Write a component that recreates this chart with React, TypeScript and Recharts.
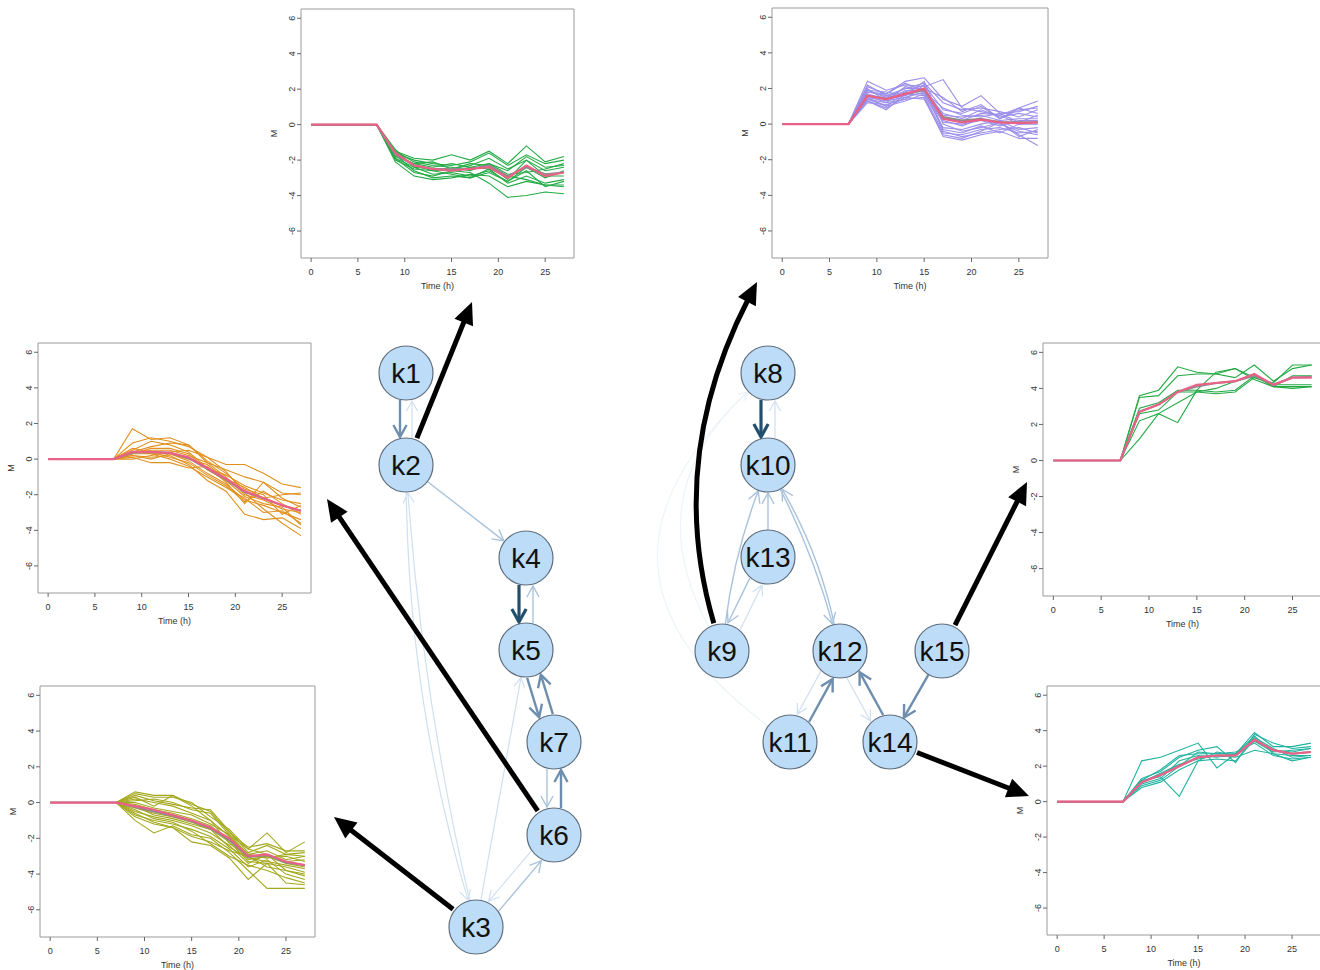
import { Line, LineChart, ReferenceArea, ReferenceLine, Scatter, ScatterChart, XAxis, YAxis } from "recharts"

const FONT = "'Liberation Sans', Arial, Helvetica, sans-serif"

// sampling times (h); every profile is 0 at t = 0 and t = 7
const times = [0, 7, 9, 11, 13, 15, 17, 19, 21, 23, 25, 27]
const xTicks = [0, 5, 10, 15, 20, 25]
const yTicks = [-6, -4, -2, 0, 2, 4, 6]

// values below are for t = 9 .. 27
const k2Profiles = [
  [-1.5, -1.9, -2.0, -1.7, -2.0, -1.5, -2.2, -1.2, -2.1, -1.8],
  [-1.6, -2.0, -2.2, -2.3, -2.1, -1.6, -2.3, -1.7, -2.2, -2.0],
  [-1.8, -2.2, -2.4, -2.2, -2.4, -2.2, -2.6, -1.8, -2.4, -2.3],
  [-2.0, -2.5, -2.6, -2.5, -2.2, -2.3, -3.1, -2.0, -2.6, -2.4],
  [-1.4, -2.4, -2.8, -2.7, -2.9, -2.6, -3.2, -2.4, -3.0, -2.6],
  [-1.7, -2.6, -3.0, -2.9, -3.0, -2.5, -3.3, -2.9, -3.3, -3.1],
  [-2.1, -2.9, -3.1, -3.0, -2.8, -2.9, -3.5, -3.2, -3.4, -3.4],
  [-1.9, -2.7, -2.9, -2.6, -2.7, -3.3, -4.1, -4.0, -3.8, -3.9],
  [-1.6, -2.3, -2.6, -2.8, -3.0, -2.7, -3.2, -2.6, -3.5, -3.2],
  [-1.5, -2.1, -2.3, -2.4, -2.6, -2.2, -2.8, -2.7, -2.5, -2.2],
  [-1.9, -2.4, -2.5, -2.6, -2.4, -2.5, -2.9, -3.1, -3.4, -3.5],
  [-1.7, -2.2, -2.1, -2.5, -2.3, -1.9, -2.5, -2.0, -2.9, -2.9],
]
const k2Centre = [-1.7, -2.3, -2.5, -2.5, -2.5, -2.3, -2.9, -2.4, -2.8, -2.7]
const k2Mean = [-1.6, -2.3, -2.5, -2.6, -2.5, -2.4, -3.0, -2.3, -2.9, -2.7]

const k9Profiles = [
  [2.4, 1.9, 2.2, 2.1, 2.5, 0.9, 0.7, 0.5, 0.9, 1.3],
  [2.1, 1.7, 2.4, 2.6, 1.4, 1.0, 1.6, 0.6, 0.7, 1.0],
  [1.9, 1.5, 2.0, 2.3, 1.2, 0.8, 0.9, 0.7, 0.4, 0.8],
  [1.8, 1.6, 1.8, 2.2, 0.8, 0.6, 1.0, 0.3, 0.9, 0.6],
  [1.7, 1.4, 1.6, 2.0, 0.5, 0.4, 0.5, 0.2, 0.3, 0.3],
  [1.6, 1.2, 1.9, 1.9, 0.3, 0.2, 0.6, 0.5, 0.0, 0.1],
  [1.5, 1.3, 1.5, 1.8, 0.1, 0.0, 0.2, -0.1, 0.2, 0.2],
  [1.4, 1.0, 1.3, 1.7, -0.2, -0.3, 0.0, 0.2, -0.3, -0.2],
  [1.3, 0.8, 1.7, 1.6, -0.5, -0.6, -0.3, -0.2, -0.5, -0.4],
  [1.2, 1.1, 1.4, 1.5, -0.7, -0.9, -0.6, -0.4, -0.8, -0.8],
  [1.9, 1.8, 1.6, 2.4, 0.0, -0.4, -0.2, 0.1, -0.6, -1.2],
  [2.0, 1.3, 2.1, 1.9, 0.6, 0.3, 0.8, 0.4, 0.6, 0.4],
  [1.6, 1.5, 1.7, 2.0, -0.4, -0.7, -0.5, -0.3, -0.2, -0.5],
  [1.5, 1.0, 1.8, 1.7, 0.2, -0.1, 0.3, 0.0, -0.4, -0.6],
  [1.8, 1.7, 2.3, 1.8, 0.9, 0.5, 0.4, 0.6, 0.1, 0.5],
  [1.4, 1.2, 1.4, 2.2, -0.3, -0.5, -0.1, -0.5, 0.0, 0.0],
  [2.2, 1.6, 2.0, 2.0, 1.5, 0.7, 1.1, 0.3, 0.8, 0.9],
  [1.3, 0.9, 1.5, 1.4, -0.6, -0.8, -0.4, 0.1, -0.7, -0.3],
]
const k9Centre = [1.6, 1.4, 1.7, 1.9, 0.4, 0.2, 0.3, 0.1, 0.1, 0.1]
const k9Mean = [1.6, 1.4, 1.7, 2.0, 0.3, 0.1, 0.25, 0.1, 0.05, 0.1]

const k6Profiles = [
  [1.7, 1.1, 1.2, 0.8, -0.2, -0.6, -1.0, -1.3, -1.9, -2.0],
  [0.9, 1.2, 1.0, 0.7, 0.1, -0.3, -0.3, -0.8, -1.4, -1.6],
  [0.5, 1.0, 0.8, 0.4, -0.5, -0.9, -1.5, -1.9, -2.3, -2.5],
  [0.3, 0.5, 0.5, 0.2, -0.2, -1.0, -2.0, -2.3, -2.8, -3.0],
  [0.4, 0.3, 0.3, -0.1, -0.8, -1.4, -2.3, -2.6, -3.0, -3.4],
  [0.2, 0.1, 0.2, -0.3, -1.2, -1.8, -3.1, -3.4, -3.3, -3.9],
  [0.1, -0.2, -0.2, -0.5, -0.4, -1.3, -2.5, -1.3, -2.2, -2.7],
  [0.0, 0.2, 0.4, 0.5, 0.1, -0.7, -1.9, -2.8, -3.6, -4.3],
  [0.3, 0.6, 0.6, 0.3, -0.6, -1.2, -2.1, -2.5, -2.7, -3.7],
  [0.6, 0.4, 0.1, -0.2, -0.9, -1.5, -2.4, -1.8, -2.5, -3.1],
  [0.2, 0.0, 0.3, 0.0, -0.3, -1.1, -1.6, -2.2, -2.0, -1.9],
  [0.4, 0.7, 0.9, 0.8, -0.1, -0.8, -1.7, -2.0, -3.1, -2.6],
  [0.3, 0.3, 0.0, -0.4, -1.0, -1.6, -2.2, -3.0, -2.9, -3.6],
]
const k6Centre = [0.35, 0.4, 0.35, 0.05, -0.55, -1.15, -1.85, -2.2, -2.6, -2.9]
const k6Mean = [0.4, 0.4, 0.35, 0.1, -0.5, -1.1, -1.8, -2.2, -2.6, -2.9]

const k3Profiles = [
  [0.6, 0.4, 0.4, -0.1, -0.5, -1.7, -2.5, -2.3, -2.7, -2.7],
  [0.5, 0.3, 0.3, 0.0, -0.8, -1.5, -2.6, -1.7, -2.8, -2.2],
  [0.4, 0.1, -0.1, -0.3, -0.4, -1.6, -2.8, -2.4, -2.9, -2.8],
  [0.2, 0.0, -0.2, -0.6, -1.0, -1.9, -2.9, -2.7, -3.2, -3.0],
  [-0.1, -0.4, -0.6, -0.9, -1.3, -2.1, -3.2, -3.0, -3.4, -3.6],
  [-0.3, -0.6, -0.8, -1.1, -1.5, -2.2, -3.3, -3.4, -3.6, -3.9],
  [-0.5, -0.8, -1.0, -1.3, -1.7, -2.4, -3.4, -2.9, -3.8, -4.1],
  [-0.7, -1.0, -1.2, -1.5, -1.9, -2.6, -3.6, -3.2, -4.0, -4.3],
  [-1.0, -1.7, -1.3, -1.8, -2.0, -2.8, -3.8, -4.8, -4.8, -4.8],
  [-0.6, -1.1, -1.4, -2.2, -2.4, -3.1, -4.3, -3.4, -4.5, -4.6],
  [-0.4, -0.9, -1.1, -1.6, -2.3, -3.0, -3.5, -3.8, -4.2, -4.5],
  [0.0, -0.3, -0.5, -0.7, -1.2, -1.8, -2.9, -3.1, -3.0, -3.3],
  [0.3, -0.2, 0.4, -0.2, -1.0, -2.3, -3.0, -3.1, -2.9, -3.0],
  [-0.2, -0.7, -0.9, -1.2, -1.5, -2.5, -3.1, -3.3, -3.5, -3.7],
  [0.1, 0.2, 0.0, -0.4, -0.6, -1.8, -2.6, -2.9, -3.3, -3.2],
  [-0.8, -1.2, -1.4, -1.9, -2.2, -2.7, -3.0, -3.6, -3.8, -4.0],
]
const k3Centre = [-0.25, -0.5, -0.75, -1.05, -1.45, -2.1, -3.05, -2.95, -3.35, -3.5]
const k3Mean = [-0.2, -0.4, -0.7, -1.0, -1.4, -2.0, -3.0, -2.9, -3.3, -3.5]

const k15Profiles = [
  [3.6, 3.9, 5.2, 4.9, 4.8, 5.1, 4.6, 4.3, 5.3, 5.3],
  [3.5, 3.6, 4.7, 4.8, 4.8, 4.6, 5.3, 4.4, 5.1, 5.3],
  [2.9, 3.2, 3.9, 3.9, 3.8, 3.9, 4.7, 4.1, 4.7, 4.7],
  [2.6, 2.8, 3.8, 3.8, 3.7, 3.8, 4.6, 4.2, 4.2, 4.2],
  [2.2, 2.6, 2.1, 3.9, 4.9, 5.1, 4.5, 4.1, 4.0, 4.1],
  [1.2, 2.6, 3.2, 3.8, 4.0, 4.4, 4.8, 4.1, 4.1, 4.1],
]
const k15Centre = [2.7, 3.1, 3.8, 4.1, 4.3, 4.4, 4.7, 4.2, 4.6, 4.65]
const k15Mean = [2.7, 3.1, 3.8, 4.2, 4.3, 4.4, 4.8, 4.2, 4.6, 4.6]

const k14Profiles = [
  [2.3, 2.5, 2.9, 3.3, 1.9, 2.7, 3.9, 3.1, 3.1, 3.3],
  [1.3, 1.7, 2.5, 2.9, 3.1, 2.2, 3.8, 3.3, 3.0, 3.1],
  [1.2, 1.4, 0.3, 2.3, 2.8, 2.6, 3.6, 3.0, 2.5, 2.6],
  [1.0, 1.3, 2.3, 2.6, 2.5, 2.7, 3.7, 2.7, 2.3, 2.5],
  [0.9, 1.2, 2.0, 2.8, 2.7, 2.7, 3.4, 2.8, 2.9, 3.0],
  [1.1, 1.6, 2.1, 2.4, 2.6, 2.5, 2.9, 2.7, 2.6, 2.6],
  [0.8, 1.1, 1.8, 2.3, 2.4, 2.3, 3.5, 2.9, 2.8, 3.0],
  [1.2, 1.8, 2.6, 2.7, 2.7, 2.8, 3.3, 2.6, 2.4, 2.5],
]
const k14Centre = [1.1, 1.5, 2.0, 2.5, 2.6, 2.6, 3.45, 2.9, 2.7, 2.8]
const k14Mean = [1.1, 1.5, 2.0, 2.5, 2.6, 2.6, 3.5, 2.9, 2.7, 2.8]

// network
const nodeNames = ["k1", "k2", "k3", "k4", "k5", "k6", "k7", "k8", "k9", "k10", "k11", "k12", "k13", "k14", "k15"]
const nodeX = [406, 406, 476, 526, 526, 554, 554, 768, 722, 768, 790, 840, 768, 890, 942]
const nodeY = [373, 465, 927, 558, 650, 835, 742, 373, 651, 465, 742, 651, 557, 742, 651]

// [from, to, strength 1..5, bend, side shift for reciprocal pairs]
const edges: [string, string, number, number, number][] = [
  ["k1", "k2", 4, 0, 6],
  ["k2", "k1", 2, 0, 6],
  ["k2", "k4", 3, 0, 0],
  ["k2", "k3", 2, 0.07, 0],
  ["k3", "k2", 2, -0.04, 0],
  ["k4", "k5", 5, 0, 7],
  ["k5", "k4", 3, 0, 7],
  ["k5", "k7", 4, 0, 7],
  ["k7", "k5", 4, 0, 7],
  ["k7", "k6", 3, 0, 7],
  ["k6", "k7", 4, 0, 7],
  ["k3", "k5", 2, 0, 0],
  ["k3", "k6", 3, 0, 7],
  ["k6", "k3", 2, 0, 7],
  ["k8", "k10", 5, 0, 7],
  ["k10", "k8", 2, 0, 7],
  ["k9", "k10", 3, -0.06, 0],
  ["k13", "k10", 3, 0, 0],
  ["k10", "k12", 3, -0.05, 0],
  ["k12", "k10", 3, 0.08, 0],
  ["k13", "k9", 3, 0, 7],
  ["k9", "k13", 2, 0, 7],
  ["k9", "k8", 1, -0.39, 0],
  ["k11", "k8", 1, -0.6, 0],
  ["k12", "k11", 2, 0, 7],
  ["k11", "k12", 4, 0, 7],
  ["k12", "k14", 2, 0, 7],
  ["k14", "k12", 4, 0, 7],
  ["k15", "k14", 4, 0, 0],
]

// node -> profile panel pointer: [from, tipX, tipY, bend]
const links: [string, number, number, number][] = [
  ["k2", 472, 302, 0],
  ["k9", 757, 282, -0.2],
  ["k6", 327, 499, 0],
  ["k3", 334, 817, 0],
  ["k15", 1027, 482, 0],
  ["k14", 1029, 796, 0],
]

const edgeStyle: Record<number, { color: string; width: number; head: number }> = {
  1: { color: "#edf3f9", width: 1.1, head: 8 },
  2: { color: "#cfe0f0", width: 1.2, head: 10 },
  3: { color: "#a9c3dc", width: 1.4, head: 11 },
  4: { color: "#6e8eae", width: 2.4, head: 12 },
  5: { color: "#234f6e", width: 3.2, head: 13 },
}

const NODE_R = 27
const XMIN = -1.08
const XMAX = 28.08
const YMIN = -7.52
const YMAX = 6.52

function geom(x1: number, y1: number, x2: number, y2: number, bend: number, r1: number, r2: number, shift = 0) {
  const dx0 = x2 - x1
  const dy0 = y2 - y1
  const l0 = Math.hypot(dx0, dy0) || 1
  // reciprocal edges run side by side
  x1 += (-dy0 / l0) * shift
  x2 += (-dy0 / l0) * shift
  y1 += (dx0 / l0) * shift
  y2 += (dx0 / l0) * shift
  const dx = x2 - x1
  const dy = y2 - y1
  const len = Math.hypot(dx, dy) || 1
  const qx = (x1 + x2) / 2 - (dy / len) * bend * len
  const qy = (y1 + y2) / 2 + (dx / len) * bend * len
  const a = Math.hypot(qx - x1, qy - y1) || 1
  const b = Math.hypot(qx - x2, qy - y2) || 1
  const sx = x1 + ((qx - x1) / a) * r1
  const sy = y1 + ((qy - y1) / a) * r1
  const ex = x2 + ((qx - x2) / b) * r2
  const ey = y2 + ((qy - y2) / b) * r2
  return { sx, sy, qx, qy, ex, ey, ux: (x2 - qx) / b, uy: (y2 - qy) / b }
}

function EdgeShape(props: any, level: number, bend: number, shift: number) {
  const { x1, y1, x2, y2 } = props
  const st = edgeStyle[level]
  const g = geom(x1, y1, x2, y2, bend, NODE_R, NODE_R + 1, shift)
  const h = st.head
  const bx = g.ex - g.ux * h
  const by = g.ey - g.uy * h
  const px = -g.uy * h * 0.55
  const py = g.ux * h * 0.55
  return (
    <g>
      <path d={`M${g.sx},${g.sy} Q${g.qx},${g.qy} ${g.ex},${g.ey}`} fill="none" stroke={st.color} strokeWidth={st.width} />
      <path
        d={`M${bx + px},${by + py} L${g.ex},${g.ey} L${bx - px},${by - py}`}
        fill="none"
        stroke={st.color}
        strokeWidth={st.width}
        strokeLinejoin="miter"
      />
    </g>
  )
}

function LinkShape(props: any, bend: number) {
  const { x1, y1, x2, y2 } = props
  const g = geom(x1, y1, x2, y2, bend, NODE_R + 2, 0)
  const h = 22
  const bx = g.ex - g.ux * h
  const by = g.ey - g.uy * h
  const px = -g.uy * 10
  const py = g.ux * 10
  return (
    <g>
      <path d={`M${g.sx},${g.sy} Q${g.qx},${g.qy} ${bx + g.ux * 4},${by + g.uy * 4}`} fill="none" stroke="#000" strokeWidth={5} />
      <polygon points={`${g.ex},${g.ey} ${bx + px},${by + py} ${bx - px},${by - py}`} fill="#000" />
    </g>
  )
}

function NodeShape(props: any) {
  const { cx, cy, payload } = props
  return (
    <g>
      <circle cx={cx} cy={cy} r={NODE_R} fill="#bcdcf7" stroke="#5f6f7f" strokeWidth={1.2} />
      <text x={cx} y={cy + 10} textAnchor="middle" fontSize={28} fontFamily={FONT} fill="#111">
        {payload.name}
      </text>
    </g>
  )
}

function Network() {
  const nodes = nodeNames.map((name, i) => ({ name, x: nodeX[i], y: nodeY[i] }))
  const pos = (n: string) => nodes[nodeNames.indexOf(n)]
  return (
    <div style={{ position: "absolute", left: 0, top: 0 }}>
      <ScatterChart width={1320} height={970} margin={{ top: 0, right: 0, bottom: 0, left: 0 }}>
        <XAxis type="number" dataKey="x" domain={[0, 1320]} hide allowDataOverflow />
        <YAxis type="number" dataKey="y" domain={[0, 970]} hide reversed allowDataOverflow />
        {edges.map(([f, t, lvl, bend, shift], i) => (
          <ReferenceLine
            key={"e" + i}
            segment={[
              { x: pos(f).x, y: pos(f).y },
              { x: pos(t).x, y: pos(t).y },
            ]}
            ifOverflow="visible"
            shape={(p: any) => EdgeShape(p, lvl, bend, shift)}
          />
        ))}
        {links.map(([f, tx, ty, bend], i) => (
          <ReferenceLine
            key={"l" + i}
            segment={[
              { x: pos(f).x, y: pos(f).y },
              { x: tx, y: ty },
            ]}
            ifOverflow="visible"
            shape={(p: any) => LinkShape(p, bend)}
          />
        ))}
        <Scatter data={nodes} shape={NodeShape} isAnimationActive={false} />
      </ScatterChart>
    </div>
  )
}

const YTick = (props: any) => {
  const { x, y, payload } = props
  return (
    <text x={x} y={y} transform={`rotate(-90 ${x} ${y})`} textAnchor="middle" fontSize={9} fill="#333" fontFamily={FONT}>
      {payload.value}
    </text>
  )
}

interface PanelProps {
  profiles: number[][]
  centre: number[]
  mean: number[]
  color: string
  left: number
  top: number
  w: number
  h: number
}

function Panel({ profiles, centre, mean, color, left, top, w, h }: PanelProps) {
  const YW = 40
  const XH = 36
  const rows = times.map((t, i) => {
    const row: Record<string, number> = { t }
    profiles.forEach((p, j) => {
      row["s" + j] = i < 2 ? 0 : p[i - 2]
    })
    row.centre = i < 2 ? 0 : centre[i - 2]
    row.mean = i < 2 ? 0 : mean[i - 2]
    return row
  })
  return (
    <div style={{ position: "absolute", left: left - YW, top: top - 1 }}>
      <LineChart width={w + YW + 2} height={h + 1 + XH} data={rows} margin={{ top: 1, right: 2, bottom: 0, left: 0 }}>
        <XAxis
          dataKey="t"
          type="number"
          domain={[XMIN, XMAX]}
          ticks={xTicks}
          interval={0}
          allowDataOverflow
          axisLine={false}
          tickLine={{ stroke: "#666" }}
          tickSize={4}
          tickMargin={7}
          height={XH}
          tick={{ fontSize: 9, fill: "#333", fontFamily: FONT }}
          label={(p: any) => (
            <text
              x={p.viewBox.x + p.viewBox.width / 2}
              y={p.viewBox.y + 31}
              textAnchor="middle"
              fontSize={9}
              fill="#333"
              fontFamily={FONT}
            >
              Time (h)
            </text>
          )}
        />
        <YAxis
          type="number"
          domain={[YMIN, YMAX]}
          ticks={yTicks}
          interval={0}
          allowDataOverflow
          axisLine={false}
          tickLine={{ stroke: "#666" }}
          tickSize={4}
          tickMargin={2}
          width={YW}
          tick={<YTick />}
          label={(p: any) => {
            const x = p.viewBox.x + 16
            const y = p.viewBox.y + p.viewBox.height / 2
            return (
              <text x={x} y={y} transform={`rotate(-90 ${x} ${y})`} textAnchor="middle" fontSize={9} fill="#333" fontFamily={FONT}>
                M
              </text>
            )
          }}
        />
        <ReferenceArea x1={XMIN} x2={XMAX} y1={YMIN} y2={YMAX} fill="none" stroke="#9a9a9a" strokeWidth={1} ifOverflow="visible" />
        {profiles.map((_, j) => (
          <Line key={j} dataKey={"s" + j} stroke={color} strokeWidth={1.1} dot={false} isAnimationActive={false} />
        ))}
        <Line dataKey="centre" stroke="#8c8c8c" strokeWidth={2} dot={false} isAnimationActive={false} />
        <Line dataKey="mean" stroke="#ea6187" strokeWidth={2.2} dot={false} isAnimationActive={false} />
      </LineChart>
    </div>
  )
}

export default function App() {
  return (
    <div style={{ position: "absolute", left: 0, top: 0, width: 1320, height: 970, overflow: "hidden", background: "#fff" }}>
      <Network />
      <Panel profiles={k2Profiles} centre={k2Centre} mean={k2Mean} color="#22aa44" left={301} top={9} w={273} h={249} />
      <Panel profiles={k9Profiles} centre={k9Centre} mean={k9Mean} color="#9b8eea" left={772} top={8} w={276} h={250} />
      <Panel profiles={k6Profiles} centre={k6Centre} mean={k6Mean} color="#e0901e" left={38} top={343} w={273} h={250} />
      <Panel profiles={k3Profiles} centre={k3Centre} mean={k3Mean} color="#a3a81c" left={40} top={686} w={275} h={251} />
      <Panel profiles={k15Profiles} centre={k15Centre} mean={k15Mean} color="#22aa44" left={1043} top={343} w={279} h={253} />
      <Panel profiles={k14Profiles} centre={k14Centre} mean={k14Mean} color="#20b3a0" left={1047} top={686} w={274} h={249} />
    </div>
  )
}
